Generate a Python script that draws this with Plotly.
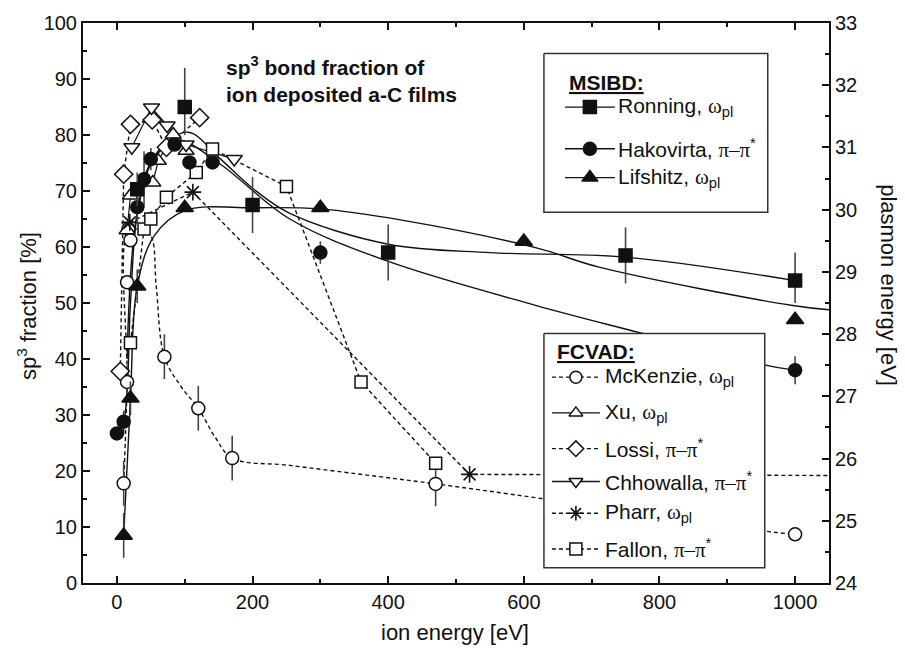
import plotly.graph_objects as go

# ---------------- data: ion energy [eV] vs sp3 fraction [%] ----------------
# MSIBD
ronning_x = [30, 100, 200, 400, 750, 1000]
ronning_y = [70.3, 85, 67.5, 59, 58.5, 54]
ronning_err_up = [3, 7, 5, 5, 5, 5]
ronning_err_dn = [3, 5, 5, 5, 5, 4]

hako_x = [0, 10, 30, 40, 50, 85, 107, 141, 300, 1000]
hako_y = [26.7, 28.8, 67.1, 72.1, 75.7, 78.3, 75.1, 75.1, 59, 38]
hako_err = [0, 2, 3, 5, 2, 0, 0, 0, 2, 2.5]

lif_x = [10, 20, 30, 100, 300, 600, 1000]
lif_y = [8.5, 33, 53, 67, 67, 61, 47]
lif_err = [4, 3, 3, 0, 0, 0, 0]

# FCVAD
mck_x = [10, 15, 15, 17, 20, 70, 120, 170, 470, 1000]
mck_y = [17.8, 35.9, 53.7, 63.2, 61.2, 40.4, 31.2, 22.3, 17.7, 8.7]
mck_err = [4, 3, 0, 0, 0, 4, 4, 4, 4, 0]

xu_x = [15, 20, 53, 61, 83, 102]
xu_y = [63, 69.2, 71.5, 75.4, 80.1, 77.2]

lossi_x = [5, 10, 20, 52, 73, 122]
lossi_y = [37.8, 73, 81.9, 82.7, 77.8, 83.1]

chho_x = [22, 51, 74, 102, 173]
chho_y = [77.8, 84.9, 81.7, 78.3, 75.7]

pharr_x = [19, 112, 520]
pharr_y = [64.4, 69.8, 19.4]

fallon_x = [20, 40, 50, 73, 117, 141, 250, 360, 470]
fallon_y = [42.9, 63.2, 65, 68.9, 73.3, 77.5, 70.8, 35.9, 21.4]

# guide curves through the data sets
ronning_fit_x = [15, 30, 60, 105, 150, 200, 255, 400, 550, 750, 1000]
ronning_fit_y = [40, 66, 77, 80.5, 76, 70.5, 66, 60.5, 59, 58.2, 54]

hako_fit_x = [0, 10, 20, 30, 50, 90, 150, 255, 396, 620, 771, 953, 1000]
hako_fit_y = [27, 29, 50, 66, 75, 79, 75, 65, 57.6, 49.5, 44.7, 39, 38]

lif_fit_x = [10, 20, 30, 55, 100, 200, 300, 420, 620, 711, 994, 1050]
lif_fit_y = [8.5, 33, 53, 62, 66.5, 67, 66.8, 64.8, 59.8, 56.4, 49.6, 48.8]

mck_fit_x = [10, 15, 17, 35, 50, 58, 70, 95, 120, 145, 170, 255, 386, 470, 625, 953, 1000]
mck_fit_y = [17.8, 36, 63, 63, 62, 53, 40.4, 35, 31.2, 26, 22.3, 21, 19, 17.7, 15.1, 9.3, 8.7]

pharr_line_x = [19, 112, 520, 1050]
pharr_line_y = [64.4, 69.8, 19.4, 19.2]

# axis ticks
x_ticks = [0, 200, 400, 600, 800, 1000]
y_ticks = list(range(0, 101, 10))
plasmon_ticks = list(range(24, 34))

INK = "#111111"
FONT = "Liberation Sans, Arial, sans-serif"
DASH = "4px,3px"

fig = go.Figure()


def curve(x, y, dash="solid", shape="spline", width=1.4):
    fig.add_trace(go.Scatter(x=x, y=y, mode="lines", line=dict(color=INK, width=width, dash=dash, shape=shape),
                             hoverinfo="skip", showlegend=False))


def marker_style(symbol, filled, size):
    if symbol.endswith("-open"):
        return dict(symbol=symbol, size=size, color=INK, line=dict(color=INK, width=1.6))
    return dict(symbol=symbol, size=size, color=INK if filled else "white", line=dict(color=INK, width=1.5))


def points(x, y, symbol, filled, size=13, err_up=None, err_dn=None):
    err = None
    if err_up is not None:
        err = dict(type="data", symmetric=err_dn is None, array=err_up,
                   arrayminus=err_dn if err_dn is not None else err_up,
                   width=0, thickness=1.6, color="#444")
    fig.add_trace(go.Scatter(x=x, y=y, mode="markers", error_y=err,
                             marker=marker_style(symbol, filled, size), showlegend=False))


# guide lines
curve(ronning_fit_x, ronning_fit_y)
curve(hako_fit_x, hako_fit_y)
curve(lif_fit_x, lif_fit_y)
curve(mck_fit_x, mck_fit_y, dash=DASH)
curve(pharr_line_x, pharr_line_y, dash=DASH, shape="linear")
curve(fallon_x, fallon_y, dash=DASH, shape="linear")
curve(lossi_x, lossi_y, dash=DASH, shape="linear")
curve(xu_x, xu_y, shape="linear", width=1.2)
curve(chho_x, chho_y, shape="linear", width=1.2)

# markers
points(mck_x, mck_y, "circle", False, err_up=mck_err)
points(fallon_x, fallon_y, "square", False, size=12)
points(lossi_x, lossi_y, "diamond", False, size=14)
points(xu_x, xu_y, "triangle-up", False, size=14)
points(chho_x, chho_y, "triangle-down", False, size=14)
points(pharr_x, pharr_y, "asterisk-open", False, size=14)
points(lif_x, lif_y, "triangle-up", True, size=15, err_up=lif_err)
points(hako_x, hako_y, "circle", True, size=13, err_up=hako_err)
points(ronning_x, ronning_y, "square", True, size=13, err_up=ronning_err_up, err_dn=ronning_err_dn)

# ---------------- legends, drawn on a pixel-scaled overlay axis ----------------
L, R, T, B = 82.7, 829.3, 19.3, 583.3


def box(x0, x1, y0, y1):
    fig.add_trace(go.Scatter(x=[x0, x1, x1, x0, x0], y=[y0, y0, y1, y1, y0], mode="lines",
                             fill="toself", fillcolor="white", line=dict(color="#333", width=1.5),
                             xaxis="x3", yaxis="y3", hoverinfo="skip", showlegend=False))


def sample(x0, x1, y, symbol, filled, dash, size=13):
    fig.add_trace(go.Scatter(x=[x0, x1], y=[y, y], mode="lines", line=dict(color=INK, width=1.4, dash=dash),
                             xaxis="x3", yaxis="y3", hoverinfo="skip", showlegend=False))
    fig.add_trace(go.Scatter(x=[(x0 + x1) / 2], y=[y], mode="markers", xaxis="x3", yaxis="y3",
                             marker=marker_style(symbol, filled, size), hoverinfo="skip", showlegend=False))


GR = "<span style='font-family:Liberation Serif, serif'>%s</span>"
W_PL = GR % "ω" + "<sub>pl</sub>"
PI_PI = GR % "π–π" + "<sup>*</sup>"


def px_to_paper(x, y):
    return (x - L) / (R - L), (B - y) / (B - T)


def label(x, y, text, size=21, anchor="left", angle=0):
    px, py = px_to_paper(x, y)
    fig.add_annotation(x=px, y=py, xref="paper", yref="paper", text=text, showarrow=False, textangle=angle,
                       xanchor=anchor, yanchor="middle", align=anchor if anchor != "center" else "center",
                       font=dict(family=FONT, size=size, color=INK))


box(544, 768, 50, 210)
label(567, 79, "<b><u>MSIBD:</u></b>")
msibd = [("Ronning, " + W_PL, "square", 104), ("Hakovirta, " + PI_PI, "circle", 146),
         ("Lifshitz, " + W_PL, "triangle-up", 175)]
for text, sym, y in msibd:
    sample(565, 615, y, sym, True, "solid", size=14 if sym == "triangle-up" else 13)
    label(616, y, text)

box(544, 765, 332, 568)
label(555, 350, "<b><u>FCVAD:</u></b>")
fcvad = [("McKenzie, " + W_PL, "circle", DASH, 376), ("Xu, " + W_PL, "triangle-up", "solid", 412),
         ("Lossi, " + PI_PI, "diamond", DASH, 448), ("Chhowalla, " + PI_PI, "triangle-down", "solid", 481),
         ("Pharr, " + W_PL, "asterisk-open", DASH, 513), ("Fallon, " + PI_PI, "square", DASH, 549)]
for text, sym, dash, y in fcvad:
    sample(552, 600, y, sym, False, dash, size=12)
    label(603, y, text)

# figure title text inside the plot
label(224, 76, "<b>sp<sup>3</sup> bond fraction of<br>ion deposited a-C films</b>", size=21)

# axis titles
label(26, 304, "sp<sup>3</sup> fraction [%]", size=22, anchor="center", angle=-90)
label(455, 633, "ion energy [eV]", size=22, anchor="center")
label(889, 283, "plasmon energy [eV]", size=22, anchor="center", angle=90)

axis_common = dict(showline=True, linecolor=INK, linewidth=2, ticks="inside", tickcolor=INK,
                   ticklen=7, tickwidth=1.5, showgrid=False, zeroline=False,
                   tickfont=dict(family=FONT, size=20, color=INK))

fig.update_layout(
    width=905, height=648,
    margin=dict(l=L, r=905 - R, t=T, b=648 - B),
    paper_bgcolor="white", plot_bgcolor="white",
    xaxis=dict(range=[-50, 1050], tickvals=x_ticks, mirror="ticks",
               minor=dict(dtick=100, tick0=0, ticks="inside", ticklen=4, tickcolor=INK), **axis_common),
    yaxis=dict(range=[0, 100], tickvals=y_ticks,
               minor=dict(dtick=5, tick0=0, ticks="inside", ticklen=4, tickcolor=INK), **axis_common),
    yaxis2=dict(range=[24, 33], tickvals=plasmon_ticks, overlaying="y", side="right",
                minor=dict(dtick=0.5, tick0=24, ticks="inside", ticklen=4, tickcolor=INK), **axis_common),
    xaxis3=dict(range=[L, R], overlaying="x", anchor="y3", visible=False, fixedrange=True),
    yaxis3=dict(range=[B, T], overlaying="y", anchor="x3", visible=False, fixedrange=True),
    showlegend=False,
)
# a dummy trace so the right-hand axis is rendered
fig.add_trace(go.Scatter(x=[None], y=[None], yaxis="y2", showlegend=False))

fig.write_html("out.html")
